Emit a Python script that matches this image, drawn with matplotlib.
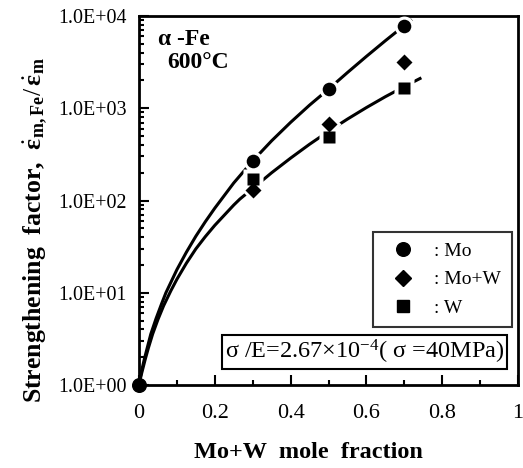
import matplotlib
matplotlib.use("Agg")
import matplotlib.pyplot as plt
from matplotlib.ticker import FixedLocator, LogLocator, NullFormatter, MultipleLocator
from matplotlib.lines import Line2D

# ---- data ----
x_frac = [0.3, 0.5, 0.7]
mo_vals = [267, 1610, 7850]
mow_vals = [129, 682, 3140]
w_vals = [172, 488, 1640]
origin_x = [0.0]
origin_y = [1.0]

# fitted curves, points
upper_x = [0, 0.003, 0.007, 0.014, 0.021, 0.031, 0.045, 0.06, 0.071, 0.1, 0.125, 0.15, 0.175, 0.2,
           0.25, 0.3, 0.35, 0.4, 0.45, 0.5, 0.55, 0.6, 0.65, 0.7, 0.72]
upper_y = [1, 1.18, 1.43, 1.90, 2.46, 3.55, 5.25, 7.67, 10, 17.8, 27.5, 41.0, 58.9, 82.6,
           155, 269, 444, 703, 1081, 1610, 2438, 3648, 5395, 7889, 9162]
lower_x = [0, 0.003, 0.007, 0.016, 0.025, 0.036, 0.05, 0.065, 0.084, 0.1, 0.125, 0.15, 0.175, 0.2,
           0.25, 0.266, 0.3, 0.35, 0.4, 0.45, 0.5, 0.55, 0.6, 0.65, 0.7, 0.745]
lower_y = [1, 1.14, 1.34, 1.87, 2.54, 3.57, 5.13, 7.24, 10.5, 14.0, 20.9, 29.9, 40.6, 53.8,
           89.3, 103.5, 135, 200, 288, 407, 562, 763, 1017, 1334, 1718, 2138]

xticks = [0, 0.2, 0.4, 0.6, 0.8, 1.0]
xticklabels = ["0", "0.2", "0.4", "0.6", "0.8", "1"]
yticks = [1, 10, 100, 1000, 10000]
yticklabels = ["1.0E+00", "1.0E+01", "1.0E+02", "1.0E+03", "1.0E+04"]
legend_labels = [": Mo", ": Mo+W", ": W"]

plt.rcParams["font.family"] = ["Liberation Serif", "DejaVu Serif"]
plt.rcParams["mathtext.fontset"] = "custom"
plt.rcParams["mathtext.rm"] = "Liberation Serif"
plt.rcParams["mathtext.it"] = "Liberation Serif:bold"
plt.rcParams["mathtext.bf"] = "Liberation Serif:bold"

fig = plt.figure(figsize=(5.23, 4.68), dpi=100)
ax = fig.add_axes([139 / 523, 1 - 385 / 468, 379 / 523, 369 / 468])
ax.set_yscale("log")
ax.set_xlim(0, 1)
ax.set_ylim(1, 10000)

lw = 2.2
ax.plot(upper_x, upper_y, color="black", lw=lw, zorder=2, solid_capstyle="butt", solid_joinstyle="round")
ax.plot(lower_x, lower_y, color="black", lw=lw, zorder=2, solid_capstyle="butt", solid_joinstyle="round")

ms = 9.8
specs = [(mo_vals, "o", ms), (mow_vals, "D", ms * 0.78), (w_vals, "s", ms * 0.95)]
# white halos to break the lines around markers
for vals, mk, s in specs:
    ax.plot(x_frac, vals, ls="none", marker=mk, ms=s + 4.5, color="white", mec="none", zorder=3)
for vals, mk, s in specs:
    ax.plot(x_frac, vals, ls="none", marker=mk, ms=s, color="black", mec="none", zorder=4)
ax.plot(origin_x, origin_y, ls="none", marker="o", ms=ms, color="black", zorder=5, clip_on=False)

# ticks
ax.xaxis.set_major_locator(FixedLocator(xticks))
ax.set_xticklabels(xticklabels, fontsize=16)
ax.xaxis.set_minor_locator(MultipleLocator(0.1))
ax.yaxis.set_major_locator(FixedLocator(yticks))
ax.set_yticklabels(yticklabels, fontsize=14.4)
ax.yaxis.set_minor_locator(LogLocator(base=10, subs=range(2, 10)))
ax.yaxis.set_minor_formatter(NullFormatter())
ax.tick_params(which="both", direction="in", top=False, right=False, width=1.5)
ax.tick_params(which="major", length=7)
ax.tick_params(which="minor", length=3.5)
ax.tick_params(axis="x", pad=14)
ax.tick_params(axis="y", pad=9)

for sp in ax.spines.values():
    sp.set_linewidth(2.0)

ax.set_xlabel("Mo+W  mole  fraction", fontsize=17.5, fontweight="bold", labelpad=16)
ax.xaxis.set_label_coords(0.446, -0.155)
ax.set_ylabel(r"Strengthening  factor,  $\dot{\varepsilon}_{\mathbf{m,Fe}}/\,\dot{\varepsilon}_{\mathbf{m}}$",
              fontsize=18.5, fontweight="bold")
ax.yaxis.set_label_coords(-0.235, 0.42)

ax.text(0.05, 0.935, "α -Fe", transform=ax.transAxes, fontsize=17, fontweight="bold", va="center")
ax.text(0.075, 0.875, "600°C", transform=ax.transAxes, fontsize=17, fontweight="bold", va="center")

handles = [Line2D([], [], ls="none", marker="o", ms=ms, color="black"),
           Line2D([], [], ls="none", marker="D", ms=ms * 0.78, color="black"),
           Line2D([], [], ls="none", marker="s", ms=ms * 0.95, color="black")]
leg = ax.legend(handles, legend_labels, loc="upper left", bbox_to_anchor=(0.617, 0.154, 0.367, 0.261),
                mode="expand", fontsize=14, frameon=True, fancybox=False, edgecolor="black",
                handletextpad=0.6, labelspacing=0.55, borderpad=0.55, handlelength=2.0,
                borderaxespad=0)
leg.get_frame().set_linewidth(1.5)

ax.text(0.226, 0.089, r"σ /E=2.67$\times$10$^{-4}$( σ =40MPa)", transform=ax.transAxes, fontsize=17.5,
        va="center", ha="left",
        bbox=dict(boxstyle="square,pad=0.12", fc="white", ec="black", lw=1.5))

fig.savefig("out.png", dpi=100)
